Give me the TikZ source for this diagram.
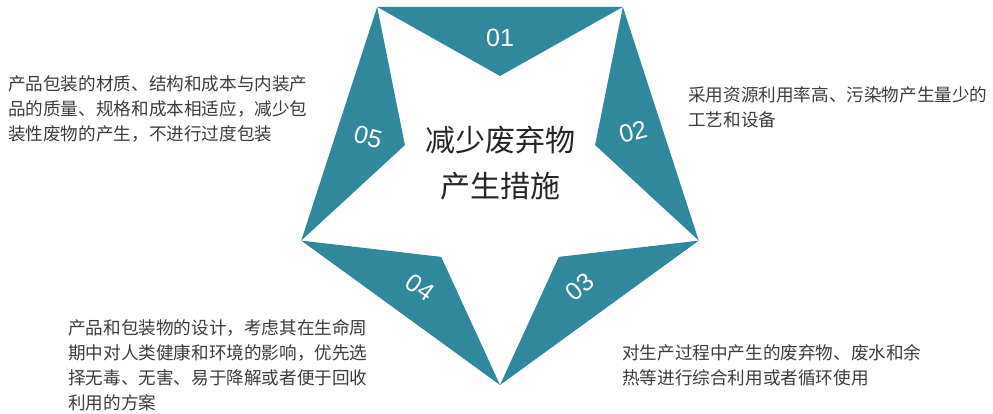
\documentclass[tikz,border=0pt]{standalone}
\usepackage{fontspec}
\setmainfont{Noto Sans CJK SC}
\newfontfamily\numfont{Liberation Sans}
\usetikzlibrary{calc}

\definecolor{petrolio}{RGB}{49,135,156}
\definecolor{grigio}{RGB}{60,60,60}

\tikzset{
  petalo/.style={fill=petrolio},
  numero/.style={text=white, font=\numfont\fontsize{25}{25}\selectfont, inner sep=0pt},
  testo/.style={text=grigio, font=\fontsize{17.6}{25}\selectfont, inner sep=0pt, align=left, anchor=north west},
  titolo/.style={text=black!85, font=\fontsize{30}{46}\selectfont, inner sep=0pt, align=center}
}

\begin{document}
\begin{tikzpicture}[x=1pt,y=-1pt]
\useasboundingbox (0,0) rectangle (993,414);

\coordinate (o) at (500,176);
% vertici esterni e interni della stella
\foreach \a [count=\i] in {126,54,-18,-90,-162}
  \coordinate (p\i) at ($(o)+(\a:209pt)$);
\foreach \a [count=\i] in {90,18,-54,-126,162}
  \coordinate (q\i) at ($(o)+(\a:100pt)$);

\foreach \i/\j in {1/2,2/3,3/4,4/5,5/1}
  \fill[petalo] (p\i) -- (q\i) -- (p\j) -- cycle;

\node[numero] (n1) at (500,38) {01};
\node[numero, rotate=15] (n2) at (633,132) {02};
\node[numero, rotate=40] (n3) at (580,287) {03};
\node[numero, rotate=-35] (n4) at (420,287) {04};
\node[numero, rotate=-15] (n5) at (368,137) {05};

\node[titolo] (centro) at (500,163) {减少废弃物\\产生措施};

\node[testo] (t5) at (8,75) {产品包装的材质、结构和成本与内装产\\品的质量、规格和成本相适应，减少包\\装性废物的产生，不进行过度包装};
\node[testo] (t2) at (688,86) {采用资源利用率高、污染物产生量少的\\工艺和设备};
\node[testo] (t4) at (68,319) {产品和包装物的设计，考虑其在生命周\\期中对人类健康和环境的影响，优先选\\择无毒、无害、易于降解或者便于回收\\利用的方案};
\node[testo] (t3) at (622,344) {对生产过程中产生的废弃物、废水和余\\热等进行综合利用或者循环使用};

\end{tikzpicture}
\end{document}
